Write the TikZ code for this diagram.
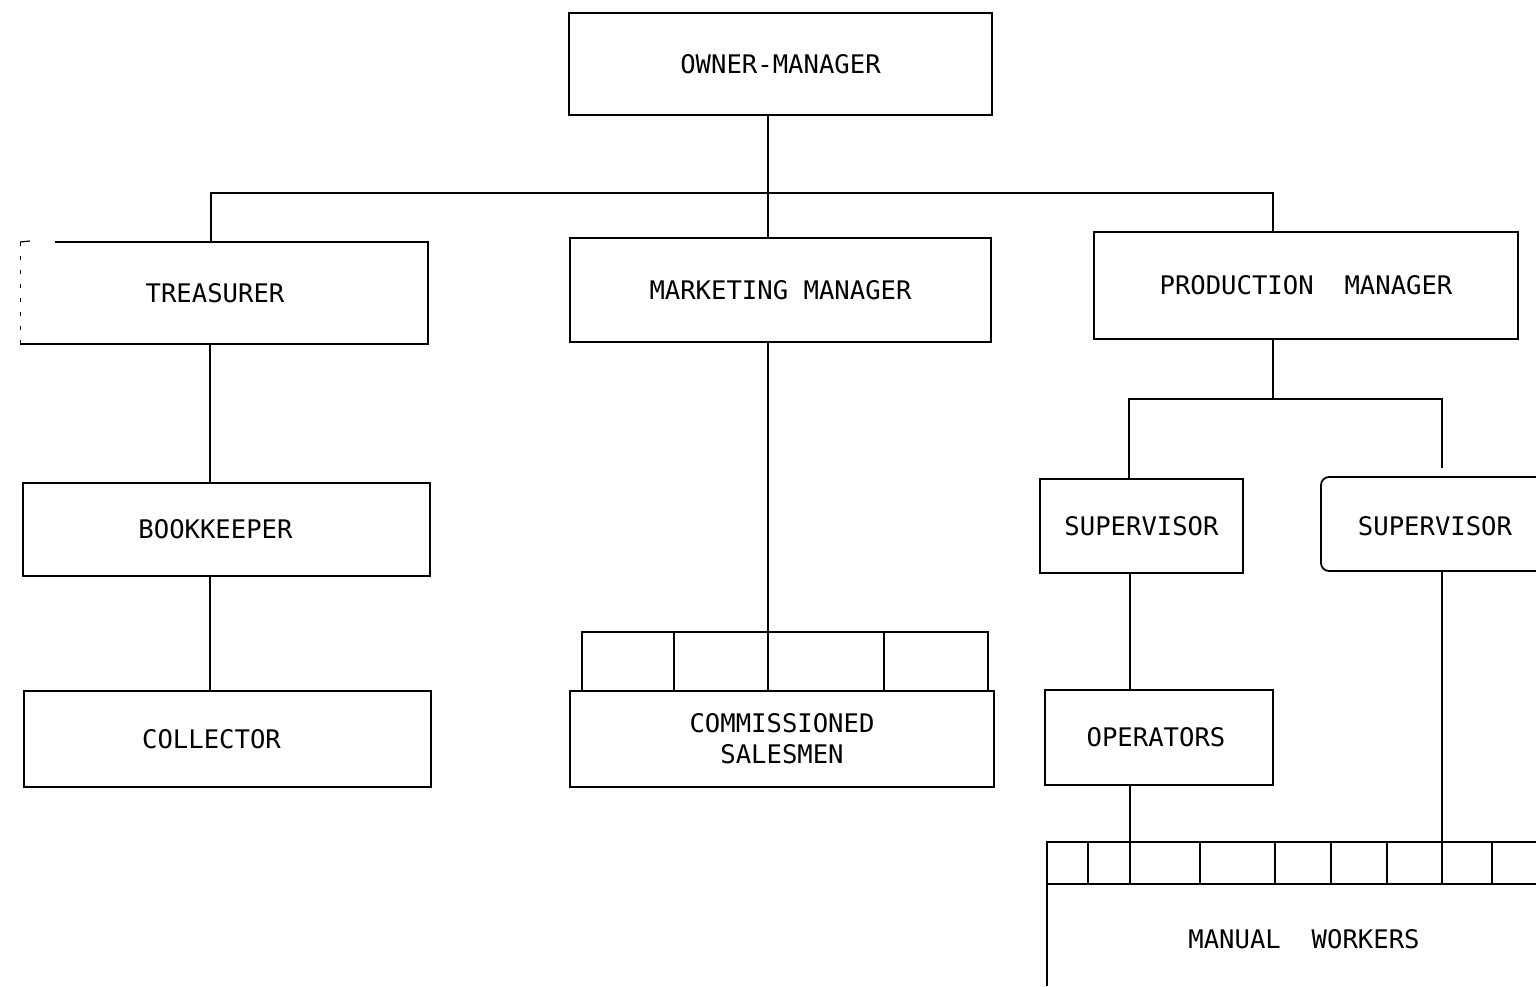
\documentclass[tikz,border=0pt]{standalone}
\usepackage{fontspec}
\setmonofont{DejaVu Sans Mono}
\begin{document}
\begin{tikzpicture}[x=0.5pt,y=-0.5pt,line width=0.9pt,
  box/.style={draw,rectangle,inner sep=0pt,outer sep=0pt,align=center,
    font=\ttfamily\fontsize{12.8}{15.5}\selectfont},
  lbl/.style={inner sep=0pt,outer sep=0pt,align=center,
    font=\ttfamily\fontsize{12.8}{15.5}\selectfont},
  faint/.style={line width=0.5pt,dash pattern=on 2pt off 5pt}]
\useasboundingbox (0,0) rectangle (1536,986);
% boxes
\node[box,minimum width=211.5pt,minimum height=51pt] (own) at (780.5,64) {OWNER-MANAGER};
\node[lbl,minimum width=204pt,minimum height=51pt] (tre) at (224,293) {\hspace*{-9pt}TREASURER};
\node[box,minimum width=210.5pt,minimum height=52pt] (mkt) at (780.5,290) {MARKETING MANAGER};
\node[box,minimum width=212pt,minimum height=53.5pt] (prd) at (1306,285.5) {PRODUCTION\ \ MANAGER};
\node[box,minimum width=203.5pt,minimum height=46.5pt] (bkp) at (226.5,529.5) {\hspace*{-11pt}BOOKKEEPER};
\node[box,minimum width=203.5pt,minimum height=48pt] (col) at (227.5,739) {\hspace*{-16pt}COLLECTOR};
\node[box,minimum width=212pt,minimum height=48pt] (com) at (782,739) {COMMISSIONED\\SALESMEN};
\node[box,minimum width=101.5pt,minimum height=47pt] (sp1) at (1141.5,526) {SUPERVISOR};
\node[lbl] (sp2) at (1435,526) {SUPERVISOR};
\node[box,minimum width=114pt,minimum height=47.5pt] (opr) at (1159,737.5) {\hspace*{-3pt}OPERATORS};
\node[lbl] (man) at (1304,939) {MANUAL\ \ WORKERS};
% treasurer box edges (left side faint)
\draw (tre.north west) ++(35,0) -- (tre.north east) -- (tre.south east) -- (tre.south west);
\draw[faint] (tre.north west) -- (tre.south west);
\draw[line width=0.6pt] (tre.north west) -- ++(10,-1);
% supervisor 2 box, open to the right
\draw[rounded corners=4pt] (1536,477) -- (1321,477) -- (1321,571) -- (1536,571);
% commissioned salesmen strip
\draw (582,691) -- (582,632) -- (988,632) -- (988,691);
\foreach \x in {674,884} \draw (\x,632) -- (\x,691);
% manual workers strip and box
\draw (1047,986) -- (1047,842) -- (1536,842);
\draw (1047,884) -- (1536,884);
\foreach \x in {1088,1200,1275,1331,1387,1492} \draw (\x,842) -- (\x,884);
% junction coordinates
\coordinate (j0) at (768,193);
\coordinate (jl) at (211,193);
\coordinate (jr) at (1273,193);
\coordinate (cl) at (210,0);
\coordinate (pj) at (1273,399);
\coordinate (pl) at (1129,399);
\coordinate (pr) at (1442,399);
\coordinate (pre) at (1442,468);
\coordinate (ol) at (1130,884);
\coordinate (s2b) at (1442,571);
\coordinate (sr) at (1442,884);
% connectors
\draw (own.south -| j0) -- (mkt.north -| j0);
\draw (tre.north -| jl) -- (jl) -- (jr) -- (prd.north -| jr);
\draw (tre.south -| cl) -- (bkp.north -| cl);
\draw (bkp.south -| cl) -- (col.north -| cl);
\draw (mkt.south -| j0) -- (com.north -| j0);
\draw (prd.south -| pj) -- (pj);
\draw (sp1.north -| pl) -- (pl) -- (pr) -- (pre);
\draw (sp1.south -| ol) -- (opr.north -| ol);
\draw (opr.south -| ol) -- (ol);
\draw (s2b) -- (sr);
\end{tikzpicture}
\end{document}
